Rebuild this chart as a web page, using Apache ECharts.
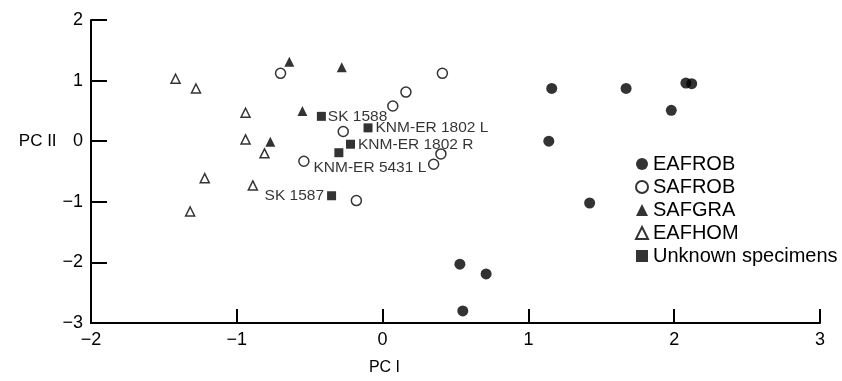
<!DOCTYPE html>
<html>
<head>
<meta charset="utf-8">
<script src="https://cdn.jsdelivr.net/npm/echarts@6/dist/echarts.min.js"></script>
<style>
  html, body { margin: 0; padding: 0; background: #fff; }
  #PcChart { width: 842px; height: 381px; }
</style>
</head>
<body>
<div id="PcChart"></div>
<script>
// PC I / PC II scores
const eafrob = [
  [1.16, 0.87], [1.67, 0.87], [2.08, 0.96], [2.12, 0.95], [1.98, 0.51],
  [1.14, 0.0], [1.42, -1.02], [0.53, -2.03], [0.71, -2.19], [0.55, -2.80]
];
const safrob = [
  [-0.70, 1.12], [0.41, 1.12], [0.16, 0.81], [0.07, 0.58], [-0.27, 0.16],
  [0.40, -0.21], [0.35, -0.38], [-0.54, -0.33], [-0.18, -0.98]
];
const safgra = [
  [-0.64, 1.31], [-0.28, 1.22], [-0.55, 0.50], [-0.77, -0.01]
];
const eafhom = [
  [-1.42, 1.03], [-1.28, 0.87], [-0.94, 0.47], [-0.94, 0.03],
  [-0.81, -0.20], [-1.22, -0.61], [-0.89, -0.73], [-1.32, -1.16]
];
const unknownNames = ['SK 1588', 'KNM-ER 1802 L', 'KNM-ER 1802 R', 'KNM-ER 5431 L', 'SK 1587'];
const unknownPoints = [
  [-0.42, 0.41], [-0.10, 0.22], [-0.22, -0.05], [-0.30, -0.19], [-0.35, -0.90]
];
const seriesNames = ['EAFROB', 'SAFROB', 'SAFGRA', 'EAFHOM', 'Unknown specimens'];

const FONT = 'Liberation Sans';
const minus = v => String(v).replace('-', '\u2212');

const labelPos = {
  'SK 1588': { position: 'right', distance: 2 },
  'KNM-ER 1802 L': { position: 'right', distance: 3 },
  'KNM-ER 1802 R': { position: 'right', distance: 3 },
  'KNM-ER 5431 L': { position: 'bottom', distance: 3, offset: [31, 0] },
  'SK 1587': { position: 'left', distance: 3 }
};

const openStyle = { color: '#fff', borderColor: '#000', borderWidth: 1.5 };
const fillStyle = { color: '#000' };

const chart = echarts.init(document.getElementById('PcChart'));

const option = {
  animation: false,
  textStyle: { fontFamily: FONT, color: '#000' },
  grid: { left: 91, right: 22, top: 20, bottom: 58 },
  legend: {
    orient: 'vertical',
    left: 630,
    top: 149,
    itemGap: 3,
    itemWidth: 12,
    itemHeight: 12,
    textStyle: { fontFamily: FONT, fontSize: 20, color: '#000' },
    data: seriesNames
  },
  xAxis: {
    type: 'value',
    min: -2, max: 3, interval: 1,
    name: '{n|PC I}',
    nameLocation: 'middle',
    nameGap: 37,
    nameTextStyle: {
      rich: { n: { fontFamily: FONT, fontSize: 16, color: '#000', padding: [0, 142, 0, 0] } }
    },
    axisLine: { onZero: false, lineStyle: { color: '#000', width: 2 } },
    axisTick: { inside: true, length: 14, lineStyle: { color: '#000', width: 2 } },
    axisLabel: { fontFamily: FONT, fontSize: 18, color: '#000', margin: 8, formatter: minus },
    splitLine: { show: false }
  },
  yAxis: {
    type: 'value',
    min: -3, max: 2, interval: 1,
    name: '{n|PC II}',
    nameLocation: 'middle',
    nameRotate: 0,
    nameGap: 34,
    nameTextStyle: {
      rich: { n: { fontFamily: FONT, fontSize: 17, color: '#000', padding: [0, 0, 60, 0] } }
    },
    axisLine: { onZero: false, lineStyle: { color: '#000', width: 2 } },
    axisTick: { inside: true, length: 16, lineStyle: { color: '#000', width: 2 } },
    axisLabel: { fontFamily: FONT, fontSize: 18, color: '#000', margin: 8, formatter: minus },
    splitLine: { show: false }
  },
  series: [
    { name: 'EAFROB', type: 'scatter', symbol: 'circle', symbolSize: 11, itemStyle: fillStyle, data: eafrob },
    { name: 'SAFROB', type: 'scatter', symbol: 'circle', symbolSize: 10, itemStyle: openStyle, data: safrob },
    { name: 'SAFGRA', type: 'scatter', symbol: 'triangle', symbolSize: 10, itemStyle: fillStyle, data: safgra },
    { name: 'EAFHOM', type: 'scatter', symbol: 'triangle', symbolSize: 9, itemStyle: openStyle, data: eafhom },
    {
      name: 'Unknown specimens',
      type: 'scatter',
      symbol: 'rect',
      symbolSize: 9,
      itemStyle: fillStyle,
      data: unknownPoints.map((p, i) => ({
        value: p,
        name: unknownNames[i],
        label: Object.assign({
          show: true,
          formatter: unknownNames[i],
          fontFamily: FONT,
          fontSize: 15.5,
          color: '#000'
        }, labelPos[unknownNames[i]])
      }))
    }
  ]
};

chart.setOption(option);
</script>
</body>
</html>
